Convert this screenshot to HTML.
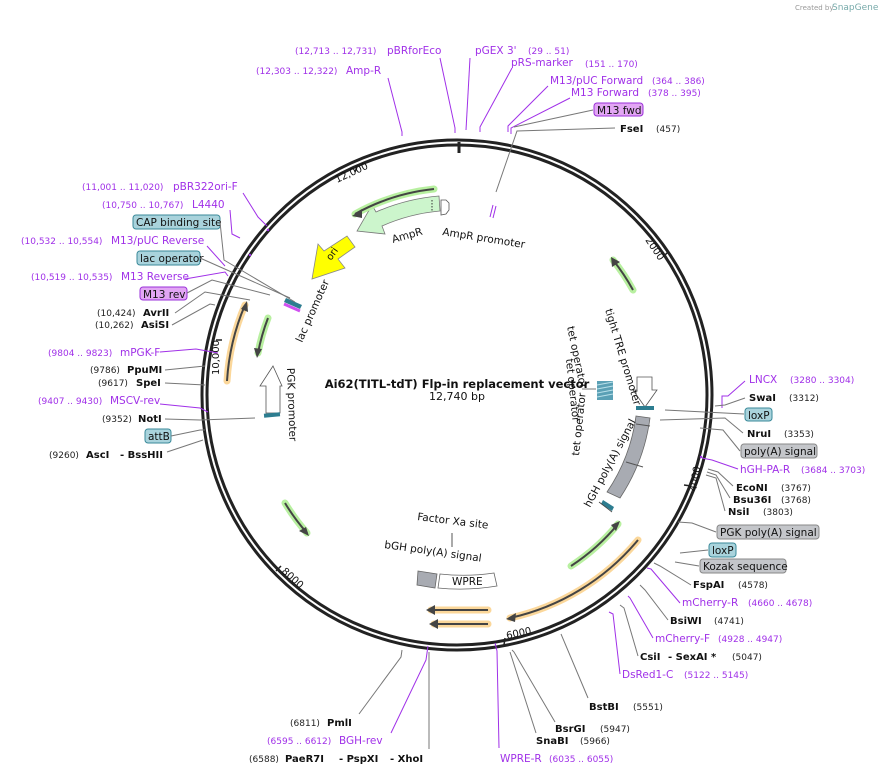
<!DOCTYPE html>
<html><head><meta charset="utf-8"><style>
body{margin:0;background:#fff}
svg{display:block;font-family:"DejaVu Sans","Liberation Sans",sans-serif}
.n{font-size:9px;fill:#222}
.p{font-size:10.5px;fill:#a030e8}
.pn{font-size:9px;fill:#a030e8}
.b{font-size:10px;font-weight:bold;fill:#111}
.f{font-size:10.5px;fill:#111}
.g{stroke:#777;stroke-width:1;fill:none}
.pl{stroke:#a030e8;stroke-width:1;fill:none}
.bx{fill:#a9d3dc;stroke:#3a8a9a;stroke-width:1}
.px{fill:#e2a6f4;stroke:#9a30d8;stroke-width:1}
.gx{fill:#c4c6ca;stroke:#888;stroke-width:1}
.hg{stroke:#b8f0a0;stroke-width:7;fill:none;stroke-linecap:round}
.ho{stroke:#fbd79a;stroke-width:7;fill:none;stroke-linecap:round}
.dl{stroke:#444;stroke-width:2;fill:none}
</style></head><body>
<svg width="893" height="775" viewBox="0 0 893 775" xmlns="http://www.w3.org/2000/svg">
<text x="795" y="10" style="font-size:7px;fill:#999">Created by</text>
<text x="832" y="10" style="font-size:9px;fill:#7aa">SnapGene</text>

<circle cx="457" cy="395" r="255" fill="none" stroke="#222" stroke-width="3"/>
<circle cx="457" cy="395" r="250" fill="none" stroke="#222" stroke-width="3"/>
<line x1="459" y1="142" x2="459" y2="153" stroke="#222" stroke-width="3"/>
<line x1="357" y1="167" x2="355" y2="172" stroke="#222" stroke-width="1.5"/>
<text x="0" y="0" transform="translate(337,183) rotate(-25)" class="f" style="font-size:10px">12,000</text>
<line x1="665" y1="255" x2="668" y2="252" stroke="#222" stroke-width="1.5"/>
<text x="0" y="0" transform="translate(645,240) rotate(56)" class="f" style="font-size:10px">2000</text>
<line x1="691" y1="486" x2="684" y2="485" stroke="#222" stroke-width="1.5"/>
<text x="0" y="0" transform="translate(696,492) rotate(-80)" class="f" style="font-size:10px">4000</text>
<line x1="504" y1="645" x2="505" y2="638" stroke="#222" stroke-width="1.5"/>
<text x="0" y="0" transform="translate(507,639) rotate(-12)" class="f" style="font-size:10px">6000</text>
<line x1="276" y1="571" x2="281" y2="566" stroke="#222" stroke-width="1.5"/>
<text x="0" y="0" transform="translate(281,572) rotate(42)" class="f" style="font-size:10px">8000</text>
<line x1="216" y1="340" x2="222" y2="340" stroke="#222" stroke-width="1.5"/>
<text x="0" y="0" transform="translate(219,375) rotate(-90)" class="f" style="font-size:10px">10,000</text>

<text x="457" y="388" text-anchor="middle" style="font-size:11.5px;font-weight:bold;fill:#111">Ai62(TITL-tdT) Flp-in replacement vector</text>
<text x="457" y="400" text-anchor="middle" class="f" style="font-size:11px">12,740 bp</text>

<path d="M439,196 A198,198 0 0 0 376,212 L372,205 L357,231 L385,234 L382,226 A183,183 0 0 1 440,211 Z" fill="#ccf5cc" stroke="#777" stroke-width="0.8"/>
<line x1="432" y1="200" x2="432" y2="212" stroke="#333" stroke-dasharray="1.5,1.5"/>
<path d="M441,200 L441,215 L446,214 L449,210 L449,203 L446,200 Z" fill="#fff" stroke="#555" stroke-width="0.8"/>
<text x="0" y="0" transform="translate(393,243) rotate(-16)" class="f">AmpR</text>
<text x="0" y="0" transform="translate(442,235) rotate(9)" class="f">AmpR promoter</text>
<path d="M434,189 A207,207 0 0 0 355,214" class="hg"/>
<path d="M434,189 A207,207 0 0 0 355,214" class="dl"/>
<path d="M352,216 L362,209 L362,218 Z" fill="#444"/>

<path d="M633,290 A205,205 0 0 0 613,260" class="hg"/>
<path d="M633,290 A205,205 0 0 0 613,260" class="dl"/>
<path d="M611,257 L620,262 L612,267 Z" fill="#444"/>

<path d="M571,566 A208,208 0 0 0 618,524" class="hg"/>
<path d="M571,566 A208,208 0 0 0 618,524" class="dl"/>
<path d="M620,521 L616,531 L611,525 Z" fill="#444"/>

<path d="M638,540 A232,232 0 0 1 510,618" class="ho"/>
<path d="M638,540 A232,232 0 0 1 510,618" class="dl"/>
<path d="M506,619 L516,613 L515,622 Z" fill="#444"/>

<path d="M488,610 L431,610" class="ho"/>
<path d="M488,610 L431,610" class="dl"/>
<path d="M426,610 L435,605 L435,615 Z" fill="#444"/>
<path d="M488,624 L434,624" class="ho"/>
<path d="M488,624 L434,624" class="dl"/>
<path d="M429,624 L438,619 L438,629 Z" fill="#444"/>

<path d="M285,503 A204,204 0 0 0 307,533" class="hg"/>
<path d="M285,503 A204,204 0 0 0 307,533" class="dl"/>
<path d="M309,536 L299,531 L306,527 Z" fill="#444"/>

<path d="M227,381 A229,229 0 0 1 245,305" class="ho"/>
<path d="M227,381 A229,229 0 0 1 245,305" class="dl"/>
<path d="M247,301 L248,312 L241,309 Z" fill="#444"/>

<path d="M268,318 A203,203 0 0 0 258,353" class="hg"/>
<path d="M268,318 A203,203 0 0 0 258,353" class="dl"/>
<path d="M257,358 L254,348 L262,349 Z" fill="#444"/>

<path d="M355,247 L347,236 L324,251 L318,244 L312,279 L345,268 L338,259 Z" fill="#ffff00" stroke="#888" stroke-width="0.8"/>
<text x="0" y="0" transform="translate(331,261) rotate(-55)" class="f" style="font-size:10px">ori</text>

<path d="M286,298 L302,305 L300,309 L284,302 Z" fill="#2d7d90"/>
<path d="M284,304 L300,311" stroke="#d050f0" stroke-width="3"/>
<text x="0" y="0" transform="translate(302,343) rotate(-66)" class="f">lac promoter</text>

<path d="M273,366 L282,386 L280,386 L280,413 L266,413 L266,386 L260,386 Z" fill="#fff" stroke="#555" stroke-width="0.8"/>
<rect x="264" y="413" width="16" height="4" fill="#2d7d90" transform="rotate(-5,272,415)"/>
<text x="0" y="0" transform="translate(287,368) rotate(88)" class="f">PGK promoter</text>

<path d="M637,377 L652,377 L652,390 L657,390 L645,407 L633,390 L637,390 Z" fill="#fff" stroke="#555" stroke-width="0.8"/>
<rect x="636" y="406" width="18" height="4" fill="#2d7d90"/>
<text x="0" y="0" transform="translate(605,310) rotate(73)" class="f">tight TRE promoter</text>
<rect x="597" y="381" width="16" height="19" fill="#5aa0b5"/>
<path d="M597,385 L613,382 M597,389 L613,386 M597,393 L613,390 M597,397 L613,394" stroke="#b8e0ea" stroke-width="1"/>
<line x1="582" y1="389" x2="596" y2="389" stroke="#777"/>
<text x="0" y="0" transform="translate(567,327) rotate(78)" class="f">tet operator</text>
<text x="0" y="0" transform="translate(566,359) rotate(84)" class="f">tet operator</text>
<text x="0" y="0" transform="translate(579,456) rotate(-84)" class="f">tet operator</text>

<path d="M636,416 L650,418 A190,190 0 0 1 620,498 L607,492 A177,177 0 0 0 636,416 Z" fill="#a8abb2" stroke="#666" stroke-width="0.8"/>
<path d="M636,424 L650,426 M626,462 L643,467" stroke="#555" stroke-width="1"/>
<path d="M603,500 L614,507 L612,511 L601,504 Z" fill="#2d7d90"/>
<path d="M599,502 L612,512" stroke="#444" stroke-width="0.8"/>
<text x="0" y="0" transform="translate(590,508) rotate(-62)" class="f">hGH poly(A) signal</text>

<text x="0" y="0" transform="translate(417,520) rotate(7)" class="f">Factor Xa site</text>
<line x1="452" y1="533" x2="452" y2="547" stroke="#555"/>
<text x="0" y="0" transform="translate(384,548) rotate(8)" class="f">bGH poly(A) signal</text>
<path d="M418,571 L437,574 L435,588 L417,585 Z" fill="#a8abb2" stroke="#666" stroke-width="0.8"/>
<path d="M440,574 Q467,577 494,573 L497,586 Q467,591 438,588 Z" fill="#fff" stroke="#666" stroke-width="0.8"/>
<text x="452" y="585" class="f">WPRE</text>

<text x="295" y="54" class="pn">(12,713 .. 12,731)</text><text x="387" y="54" class="p">pBRforEco</text>
<text x="256" y="74" class="pn">(12,303 .. 12,322)</text><text x="346" y="74" class="p">Amp-R</text>
<text x="475" y="54" class="p">pGEX 3'</text><text x="528" y="54" class="pn">(29 .. 51)</text>
<text x="511" y="66" class="p">pRS-marker</text><text x="585" y="67" class="pn">(151 .. 170)</text>
<text x="550" y="84" class="p">M13/pUC Forward</text><text x="652" y="84" class="pn">(364 .. 386)</text>
<text x="571" y="96" class="p">M13 Forward</text><text x="648" y="96" class="pn">(378 .. 395)</text>
<rect x="594" y="103" width="49" height="13" rx="3" class="px"/><text x="597" y="114" class="f">M13 fwd</text>
<text x="620" y="132" class="b">FseI</text><text x="656" y="132" class="n">(457)</text>
<path d="M388,78 L402,132 L402,136" class="pl"/>
<path d="M440,58 L455,128 L455,133" class="pl"/>
<path d="M470,58 L466,130" class="pl"/>
<path d="M512,68 L480,127 L480,132" class="pl"/>
<path d="M548,86 L508,126 L508,132" class="pl"/>
<path d="M570,98 L511,128 L511,134" class="pl"/>
<path d="M593,110 L514,127" class="g"/>
<path d="M615,128 L517,131 L496,192" class="g"/>
<path d="M493,205 L490,217 M496,206 L493,218" stroke="#a030e8" stroke-width="1"/>

<text x="82" y="190" class="pn">(11,001 .. 11,020)</text><text x="173" y="190" class="p">pBR322ori-F</text>
<text x="102" y="208" class="pn">(10,750 .. 10,767)</text><text x="192" y="208" class="p">L4440</text>
<rect x="133" y="215" width="87" height="14" rx="3" class="bx"/><text x="136" y="226" class="f">CAP binding site</text>
<text x="21" y="244" class="pn">(10,532 .. 10,554)</text><text x="111" y="244" class="p">M13/pUC Reverse</text>
<rect x="137" y="251" width="63" height="14" rx="3" class="bx"/><text x="140" y="262" class="f">lac operator</text>
<text x="31" y="280" class="pn">(10,519 .. 10,535)</text><text x="121" y="280" class="p">M13 Reverse</text>
<rect x="140" y="287" width="47" height="13" rx="3" class="px"/><text x="143" y="298" class="f">M13 rev</text>
<text x="97" y="316" class="n">(10,424)</text><text x="143" y="316" class="b">AvrII</text>
<text x="95" y="328" class="n">(10,262)</text><text x="141" y="328" class="b">AsiSI</text>
<text x="48" y="356" class="pn">(9804 .. 9823)</text><text x="120" y="356" class="p">mPGK-F</text>
<text x="90" y="373" class="n">(9786)</text><text x="127" y="373" class="b">PpuMI</text>
<text x="98" y="386" class="n">(9617)</text><text x="136" y="386" class="b">SpeI</text>
<text x="38" y="404" class="pn">(9407 .. 9430)</text><text x="110" y="404" class="p">MSCV-rev</text>
<text x="102" y="422" class="n">(9352)</text><text x="138" y="422" class="b">NotI</text>
<rect x="145" y="429" width="26" height="14" rx="3" class="bx"/><text x="148" y="440" class="f">attB</text>
<text x="49" y="458" class="n">(9260)</text><text x="86" y="458" class="b">AscI</text><text x="120" y="458" class="b">- BssHII</text>
<path d="M243,193 L258,217 L267,226" class="pl"/><circle cx="268" cy="230" r="1.2" fill="#a030e8"/>
<path d="M230,210 L232,234 L240,238" class="pl"/><circle cx="250" cy="255" r="1.2" fill="#a030e8"/>
<path d="M220,222 L224,260 L295,302" class="g"/>
<path d="M207,246 L225,266" class="pl"/>
<path d="M200,258 L290,298" class="g"/>
<path d="M185,279 L225,272 L228,276" class="pl"/>
<path d="M187,293 L212,280 L270,295" class="g"/>
<path d="M175,313 L205,292 L250,300" class="g"/>
<path d="M172,325 L210,304 L215,305" class="g"/>
<path d="M160,352 L196,349 M196,349 L218,353" class="pl"/>
<path d="M165,370 L205,366" class="g"/>
<path d="M165,383 L205,385" class="g"/>
<path d="M160,404 L200,408 L208,412" class="pl"/>
<path d="M165,419 L200,420 L255,418" class="g"/>
<path d="M171,436 L200,430 L205,430" class="g"/>
<path d="M167,452 L203,440" class="g"/>

<text x="749" y="383" class="p">LNCX</text><text x="790" y="383" class="pn">(3280 .. 3304)</text>
<text x="749" y="401" class="b">SwaI</text><text x="789" y="401" class="n">(3312)</text>
<rect x="745" y="408" width="27" height="13" rx="3" class="bx"/><text x="748" y="419" class="f">loxP</text>
<text x="747" y="437" class="b">NruI</text><text x="784" y="437" class="n">(3353)</text>
<rect x="741" y="444" width="76" height="14" rx="3" class="gx"/><text x="744" y="455" class="f">poly(A) signal</text>
<text x="740" y="473" class="p">hGH-PA-R</text><text x="801" y="473" class="pn">(3684 .. 3703)</text>
<text x="736" y="491" class="b">EcoNI</text><text x="781" y="491" class="n">(3767)</text>
<text x="733" y="503" class="b">Bsu36I</text><text x="781" y="503" class="n">(3768)</text>
<text x="728" y="515" class="b">NsiI</text><text x="763" y="515" class="n">(3803)</text>
<rect x="717" y="525" width="102" height="14" rx="3" class="gx"/><text x="720" y="536" class="f">PGK poly(A) signal</text>
<rect x="709" y="543" width="27" height="14" rx="3" class="bx"/><text x="712" y="554" class="f">loxP</text>
<rect x="700" y="559" width="86" height="14" rx="3" class="gx"/><text x="703" y="570" class="f">Kozak sequence</text>
<text x="693" y="588" class="b">FspAI</text><text x="738" y="588" class="n">(4578)</text>
<text x="682" y="606" class="p">mCherry-R</text><text x="748" y="606" class="pn">(4660 .. 4678)</text>
<text x="670" y="624" class="b">BsiWI</text><text x="714" y="624" class="n">(4741)</text>
<text x="655" y="642" class="p">mCherry-F</text><text x="718" y="642" class="pn">(4928 .. 4947)</text>
<text x="640" y="660" class="b">CsiI</text><text x="668" y="660" class="b">- SexAI *</text><text x="732" y="660" class="n">(5047)</text>
<text x="622" y="678" class="p">DsRed1-C</text><text x="684" y="678" class="pn">(5122 .. 5145)</text>
<path d="M745,381 L728,396 L722,396 L722,408" class="pl"/>
<path d="M745,398 L725,405 L715,406" class="g"/>
<path d="M744,414 L665,410" class="g"/>
<path d="M743,433 L725,418 L660,420" class="g"/>
<path d="M740,451 L723,430 L700,428" class="g"/>
<path d="M738,469 L712,460 L702,458" class="pl"/><circle cx="701" cy="457" r="1.2" fill="#a030e8"/>
<path d="M733,486 L718,472 L708,469" class="g"/>
<path d="M730,498 L716,475 L707,472" class="g"/>
<path d="M725,511 L716,478 L706,475" class="g"/>
<path d="M716,532 L692,523 L678,522" class="g"/>
<path d="M708,550 L680,553" class="g"/>
<path d="M699,566 L675,562" class="g"/>
<path d="M691,585 L660,566 L654,563" class="g"/>
<path d="M680,603 L651,569 L647,568" class="pl"/>
<path d="M668,620 L645,590 L640,585" class="g"/>
<path d="M653,638 L630,598 L628,596" class="pl"/>
<path d="M638,656 L624,608 L620,605" class="g"/>
<path d="M620,674 L613,614 L609,612" class="pl"/>

<text x="589" y="710" class="b">BstBI</text><text x="633" y="710" class="n">(5551)</text>
<text x="555" y="732" class="b">BsrGI</text><text x="600" y="732" class="n">(5947)</text>
<text x="536" y="744" class="b">SnaBI</text><text x="580" y="744" class="n">(5966)</text>
<text x="500" y="762" class="p">WPRE-R</text><text x="549" y="762" class="pn">(6035 .. 6055)</text>
<text x="290" y="726" class="n">(6811)</text><text x="327" y="726" class="b">PmlI</text>
<text x="267" y="744" class="pn">(6595 .. 6612)</text><text x="339" y="744" class="p">BGH-rev</text>
<text x="249" y="762" class="n">(6588)</text><text x="285" y="762" class="b">PaeR7I</text><text x="339" y="762" class="b">- PspXI</text><text x="390" y="762" class="b">- XhoI</text>
<path d="M588,698 L561,634" class="g"/>
<path d="M555,722 L514,652 L512,650" class="g"/>
<path d="M536,733 L510,652" class="g"/>
<path d="M499,748 L497,651 L495,643" class="pl"/>
<path d="M359,714 L401,657 L402,650" class="g"/>
<path d="M391,733 L426,660 L428,646" class="pl"/>
<line x1="429" y1="749" x2="429" y2="652" stroke="#bbb" stroke-width="2"/>
</svg>
</body></html>
